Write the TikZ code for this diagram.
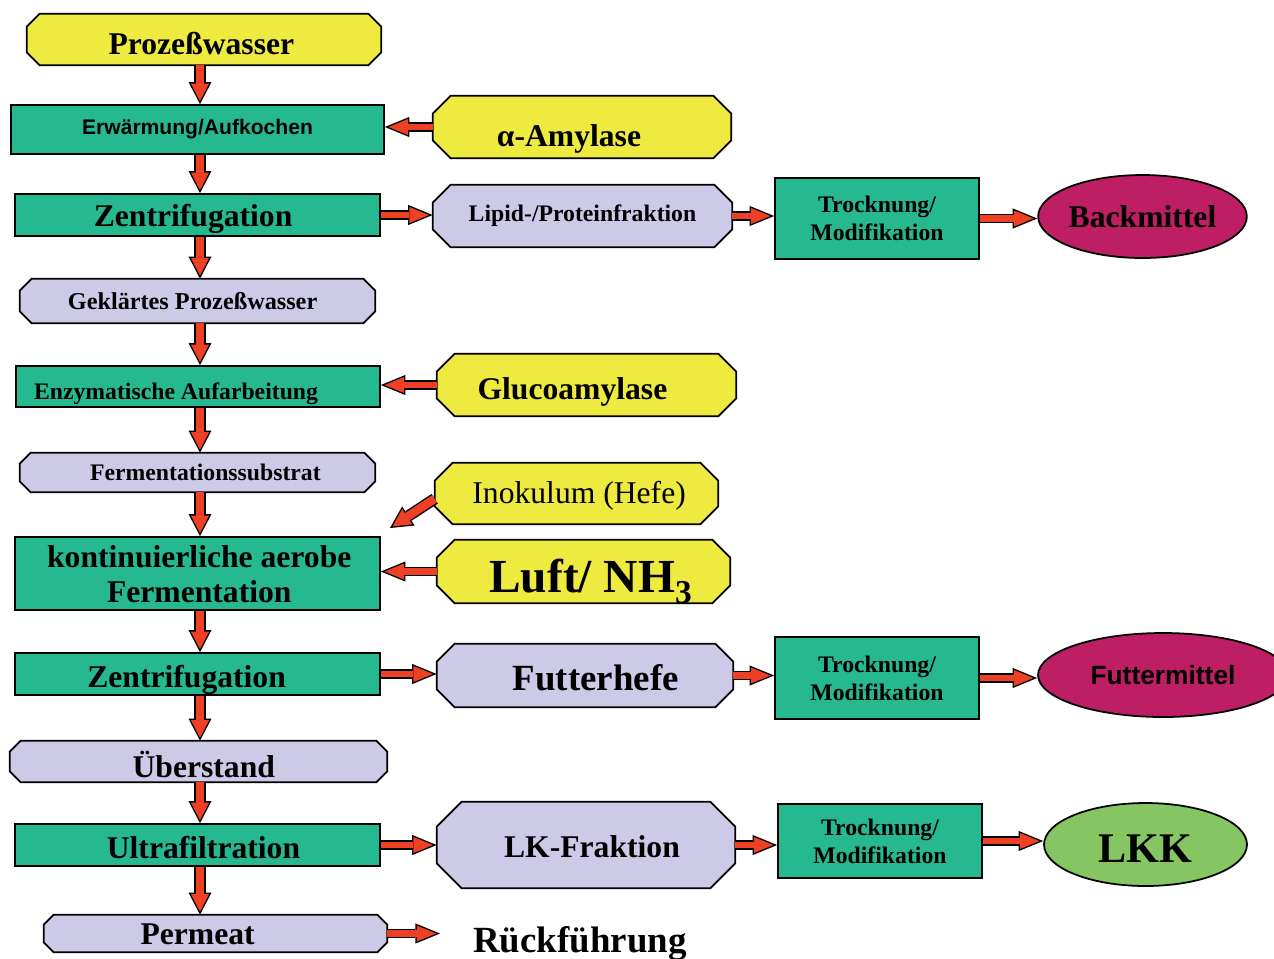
\documentclass[tikz,border=0pt]{standalone}
\usepackage{fontspec}
\setmainfont{Liberation Serif}
\newfontfamily\arialfont{Liberation Sans}
\usetikzlibrary{shapes.geometric,arrows.meta,calc,backgrounds}
\definecolor{gelb}{RGB}{238,234,64}
\definecolor{gruen}{RGB}{38,185,143}
\definecolor{lila}{RGB}{204,202,230}
\definecolor{weinrot}{RGB}{190,30,99}
\definecolor{hellgruen}{RGB}{134,198,98}
\definecolor{pfeilrot}{RGB}{238,64,36}
% Text im Kasten verschieben (dx, dy nach unten)
\newcommand{\verschieben}[3]{\raisebox{-#2}[\height][\depth]{\hspace*{#1}#3\hspace*{-#1}}}

\tikzset{
	schritt/.style={draw=black, line width=1pt, fill=gruen, inner sep=0pt, align=center},
	stoff/.style={rectangle, inner sep=0pt, align=center},
	produkt/.style={draw=black, line width=1pt, ellipse, inner sep=0pt, align=center},
	gross/.style={font=\fontsize{18pt}{20pt}\selectfont\bfseries},
	klein/.style={font=\fontsize{13.5pt}{16pt}\selectfont\bfseries},
	vflow/.style={line width=4.9pt, draw=pfeilrot, shorten >=1.73pt,
		-{Triangle[length=9.97pt, width=10.37pt, line width=0pt]},
		preaction={draw=black, line width=6.5pt, shorten >=0pt,
			-{Triangle[length=12.5pt, width=13pt, line width=0pt]}}},
	hflow/.style={line width=3.9pt, draw=pfeilrot, shorten >=2.11pt,
		-{Triangle[length=11.09pt, width=9.11pt, line width=0pt]},
		preaction={draw=black, line width=5.5pt, shorten >=0pt,
			-{Triangle[length=14pt, width=11.5pt, line width=0pt]}}}
}

\begin{document}
\begin{tikzpicture}[x=0.02cm, y=-0.02cm]
	
	\useasboundingbox (0,0) rectangle (1274,958);
	
	% linke Spalte
	\node[stoff, gross, minimum width=7.08cm, minimum height=1.02cm] (proz) at (204,39.5) {\verschieben{-1.5pt}{2pt}{Prozeßwasser}};
	\node[schritt, font=\arialfont\bfseries\fontsize{12pt}{14pt}\selectfont, minimum width=7.46cm, minimum height=0.98cm] (erw) at (197.5,129.5) {Erwärmung/Aufkochen};
	\node[schritt, gross, minimum width=7.30cm, minimum height=0.84cm] (zent1) at (197.5,215) {\verschieben{-2.5pt}{2.3pt}{Zentrifugation}};
	\node[stoff, font=\fontsize{13.8pt}{16pt}\selectfont\bfseries, minimum width=7.10cm, minimum height=0.88cm] (geklaert) at (197.5,301) {\verschieben{-2.8pt}{0pt}{Geklärtes Prozeßwasser}};
	\node[schritt, klein, minimum width=7.28cm, minimum height=0.82cm] (enzym) at (198,386.5) {\verschieben{-12.5pt}{4.2pt}{Enzymatische Aufarbeitung}};
	\node[stoff, klein, minimum width=7.10cm, minimum height=0.78cm] (ferms) at (197.5,472.5) {\verschieben{4.5pt}{0pt}{Fermentationssubstrat}};
	\node[schritt, gross, minimum width=7.30cm, minimum height=1.46cm] (ferm) at (197.5,573.5) {\verschieben{1pt}{2.3pt}{\begin{tabular}{@{}c@{}}kontinuierliche aerobe\\Fermentation\end{tabular}}};
	\node[schritt, gross, minimum width=7.30cm, minimum height=0.84cm] (zent2) at (197.5,674) {\verschieben{-6.2pt}{3.6pt}{Zentrifugation}};
	\node[stoff, gross, minimum width=7.54cm, minimum height=0.82cm] (ueber) at (198.5,761.5) {\verschieben{3pt}{1.5pt}{Überstand}};
	\node[schritt, gross, minimum width=7.30cm, minimum height=0.84cm] (ultra) at (197.5,845) {\verschieben{3.4pt}{1.7pt}{Ultrafiltration}};
	\node[stoff, gross, minimum width=6.86cm, minimum height=0.74cm] (perm) at (215.5,933.5) {\verschieben{-10.2pt}{0.5pt}{Permeat}};
	
	% mittlere Spalte
	\node[stoff, gross, minimum width=5.96cm, minimum height=1.24cm] (amyl) at (582,127) {\verschieben{-7.4pt}{6.8pt}{α-Amylase}};
	\node[stoff, klein, minimum width=5.98cm, minimum height=1.24cm] (lipid) at (582.5,216) {Lipid-/Proteinfraktion};
	\node[stoff, gross, minimum width=5.98cm, minimum height=1.24cm] (gluco) at (586.5,385) {\verschieben{-8pt}{4pt}{Glucoamylase}};
	\node[stoff, font=\fontsize{18pt}{20pt}\selectfont, minimum width=5.66cm, minimum height=1.22cm] (inok) at (576.5,493.5) {\verschieben{1.5pt}{1pt}{Inokulum (Hefe)}};
	\node[stoff, font=\fontsize{27pt}{30pt}\selectfont\bfseries, minimum width=5.86cm, minimum height=1.26cm] (luft) at (583.5,571.5) {\verschieben{4pt}{5.7pt}{Luft/ NH\raisebox{-0.22em}{\fontsize{19pt}{20pt}\selectfont 3}}};
	\node[stoff, font=\fontsize{21pt}{24pt}\selectfont\bfseries, minimum width=5.92cm, minimum height=1.26cm] (hefe) at (585,675.5) {\verschieben{6.2pt}{1.1pt}{Futterhefe}};
	\node[stoff, gross, minimum width=5.96cm, minimum height=1.72cm] (lk) at (586,845) {\verschieben{3.4pt}{1pt}{LK-Fraktion}};
	\node[anchor=base west, font=\fontsize{21pt}{24pt}\selectfont\bfseries, inner sep=0pt] (rueck) at (473,952) {Rückführung};
	
	% rechte Spalte
	\node[schritt, klein, minimum width=4.08cm, minimum height=1.62cm] (trock1) at (877,218.5) {Trocknung/\\Modifikation};
	\node[schritt, klein, minimum width=4.08cm, minimum height=1.64cm] (trock2) at (877,678) {Trocknung/\\Modifikation};
	\node[schritt, klein, minimum width=4.08cm, minimum height=1.48cm] (trock3) at (880,841) {Trocknung/\\Modifikation};
	\node[produkt, fill=weinrot, gross, minimum width=4.10cm, minimum height=1.66cm] (back) at (1142.5,216.5) {Backmittel};
	\node[produkt, fill=weinrot, font=\arialfont\bfseries\fontsize{15pt}{17pt}\selectfont, minimum width=5.00cm, minimum height=1.68cm] (futter) at (1163,675) {Futtermittel};
	\node[produkt, fill=hellgruen, font=\fontsize{24pt}{26pt}\selectfont\bfseries, minimum width=4.06cm, minimum height=1.66cm] (lkk) at (1145.5,844.5) {\verschieben{0pt}{2.3pt}{LKK}};
	
	% Achtecke hinter den Stoffen
	\begin{scope}[on background layer]
		\foreach \n/\eck/\f in {proz/13/gelb, amyl/18/gelb, lipid/18/lila, geklaert/12/lila,
			gluco/18/gelb, ferms/11/lila, inok/18/gelb, luft/18/gelb, hefe/18/lila,
			ueber/11/lila, lk/25/lila, perm/10/lila}
		\draw[line width=1pt, fill=\f] ($(\n.north west)+(\eck,0)$) -- ($(\n.north east)+(-\eck,0)$)
			-- ($(\n.north east)+(0,\eck)$) -- ($(\n.south east)+(0,-\eck)$)
			-- ($(\n.south east)+(-\eck,0)$) -- ($(\n.south west)+(\eck,0)$)
			-- ($(\n.south west)+(0,-\eck)$) -- ($(\n.north west)+(0,\eck)$) -- cycle;
	\end{scope}
	
	\coordinate (inokziel) at (390,528);
	\coordinate (rueckpfeil) at (440,933.5);
	
	% Pfeile
	\foreach \a/\b in {proz/erw, erw/zent1, zent1/geklaert, geklaert/enzym, enzym/ferms,
		ferms/ferm, ferm/zent2, zent2/ueber, ueber/ultra, ultra/perm}
	\draw[vflow] (\a.south -| 200,0) -- (\b.north -| 200,0);
	\foreach \a/\b in {zent1/lipid, lipid/trock1, trock1/back, zent2/hefe, hefe/trock2,
		trock2/futter, ultra/lk, lk/trock3, trock3/lkk}
	\draw[hflow] (\a.east) -- (\a.east -| \b.west);
	\foreach \a/\b in {amyl/erw, gluco/enzym, luft/ferm}
	\draw[hflow] (\a.west) -- (\a.west -| \b.east);
	\draw[vflow] ([yshift=-3pt]inok.west) -- (inokziel);
	\draw[hflow] (perm.east) -- (rueckpfeil);
	
\end{tikzpicture}
\end{document}
